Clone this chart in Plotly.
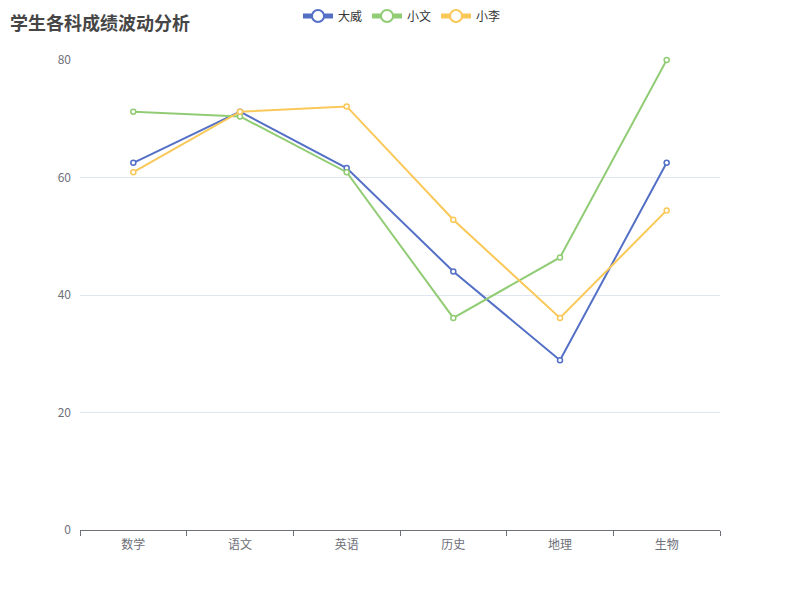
import plotly.graph_objects as go

categories = ["数学", "语文", "英语", "历史", "地理", "生物"]
dawei = [62.5, 71.2, 61.6, 44.0, 28.9, 62.5]
xiaowen = [71.2, 70.4, 60.9, 36.1, 46.4, 80.0]
xiaoli = [60.9, 71.2, 72.1, 52.8, 36.1, 54.4]
series_names = ["大威", "小文", "小李"]
colors = ["#5470c6", "#91cc75", "#fac858"]
y_ticks = [0, 20, 40, 60, 80]

FONT = "Noto Sans CJK SC"

fig = go.Figure()
for name, vals, c in zip(series_names, [dawei, xiaowen, xiaoli], colors):
    fig.add_trace(go.Scatter(
        x=categories, y=vals, name=name, mode="lines+markers",
        line=dict(color=c, width=2),
        marker=dict(symbol="circle", size=5, color="white",
                    line=dict(color=c, width=1.5)),
        cliponaxis=False,
    ))

L, T, PW, PH = 72, 52, 640, 470
fig.update_layout(
    width=800, height=600,
    paper_bgcolor="white", plot_bgcolor="white",
    margin=dict(l=L, r=800 - L - PW, t=T, b=600 - T - PH),
    font=dict(family=FONT, size=12, color="#6E7079"),
    legend=dict(orientation="h", x=0.5 - 6 / 800, xanchor="center",
                y=1 - 8 / 600, yanchor="middle",
                yref="container", xref="container", itemsizing="constant",
                font=dict(family=FONT, size=12, color="#333333"),
                bgcolor="rgba(0,0,0,0)"),
    showlegend=True,
)
fig.add_annotation(
    text="<b>学生各科成绩波动分析</b>", xref="paper", yref="paper",
    x=(1 - L) / PW, y=1 + T / PH, xanchor="left", yanchor="top",
    showarrow=False, borderpad=0,
    font=dict(family=FONT, size=18, color="#464646"),
)
fig.update_xaxes(
    type="category", tickson="boundaries", ticks="outside", ticklen=5,
    tickcolor="#6E7079", showline=True, linecolor="#6E7079", linewidth=1,
    showgrid=False, tickfont=dict(size=12, color="#6E7079"),
    ticklabelstandoff=4,
    range=[-0.5, len(categories) - 0.5],
)
fig.update_yaxes(
    range=[0, 80], tickvals=y_ticks, showgrid=True, gridcolor="#E0E6F1",
    zeroline=False, showline=False, ticks="", ticklabelstandoff=8,
    tickfont=dict(size=12, color="#6E7079"),
)
fig.write_html("out.html")
